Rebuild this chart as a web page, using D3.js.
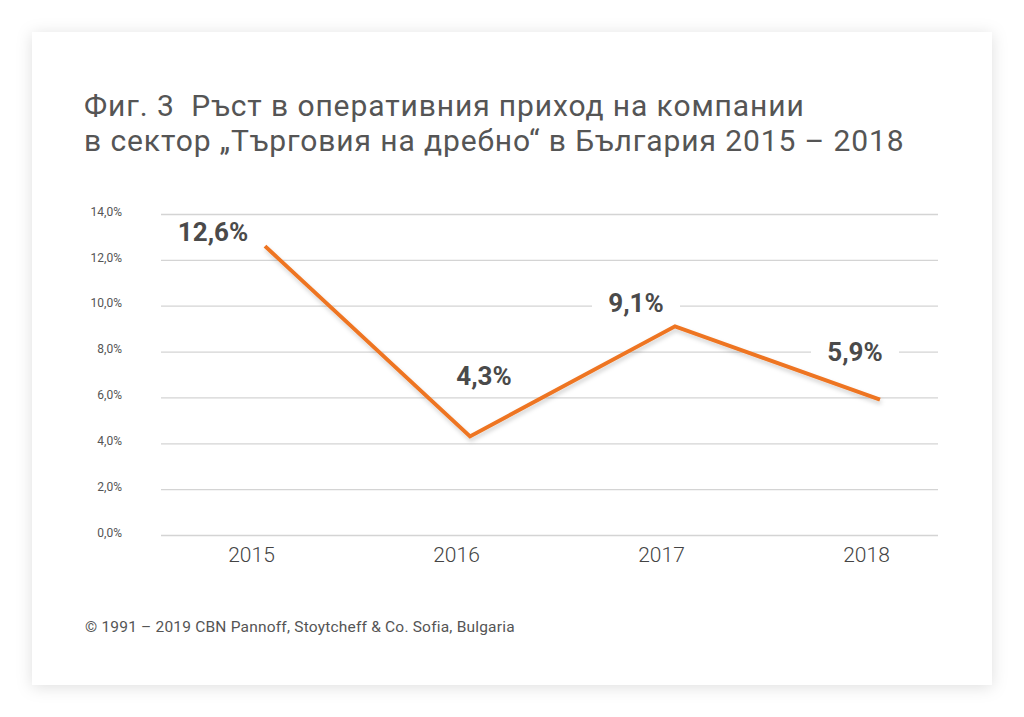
<!DOCTYPE html>
<html><head><meta charset="utf-8">
<script src="https://cdn.jsdelivr.net/npm/d3@7"></script>
<style>
html,body{margin:0;padding:0;background:#fff;}
svg{display:block;}
</style></head>
<body>
<svg id="c" width="1024" height="717"></svg>
<script>
const years = ["2015","2016","2017","2018"];
const growth = [12.6, 4.3, 9.1, 5.9];
const valueLabels = ["12,6%","4,3%","9,1%","5,9%"];
const yTicks = [0,2,4,6,8,10,12,14];
const titleLines = ["Фиг. 3\u00a0 Ръст в оперативния приход на компании","в сектор „Търговия на дребно“ в България 2015 – 2018"];
const footer = "© 1991 – 2019 CBN Pannoff, Stoytcheff & Co. Sofia, Bulgaria";

const svg = d3.select("#c");
const defs = svg.append("defs");
const f = defs.append("filter").attr("id","card").attr("x","-10%").attr("y","-10%").attr("width","120%").attr("height","120%");
f.append("feDropShadow").attr("dx",0).attr("dy",2).attr("stdDeviation",8).attr("flood-color","#000").attr("flood-opacity",0.13);
const f2 = defs.append("filter").attr("id","ls").attr("x","-10%").attr("y","-10%").attr("width","120%").attr("height","130%");
f2.append("feDropShadow").attr("dx",1).attr("dy",3).attr("stdDeviation",2).attr("flood-color","#000").attr("flood-opacity",0.18);

svg.append("rect").attr("x",32).attr("y",32).attr("width",960).attr("height",653).attr("fill","#fff").attr("filter","url(#card)");

const font = "Roboto, 'Noto Sans', sans-serif";
svg.append("g").selectAll("text").data(titleLines).join("text")
  .attr("x",84).attr("y",(d,i)=>116+i*35)
  .attr("font-family",font).attr("font-size",30).attr("letter-spacing",0.9).attr("fill","#555")
  .text(d=>d);

const y = d3.scaleLinear().domain([0,14]).range([535,214]);
const x = d3.scalePoint().domain(years).range([265,880]);
const gridL = 161, gridR = 938;

const yAxis = svg.append("g").attr("transform",`translate(${gridL},0)`)
  .call(d3.axisLeft(y).tickValues(yTicks).tickSize(-(gridR-gridL)).tickPadding(39)
    .tickFormat(d=>d3.format(".1f")(d).replace(".",",")+"%"));
yAxis.select(".domain").remove();
yAxis.selectAll(".tick line").attr("stroke","#d4d4d4").attr("stroke-width",1.3);
yAxis.selectAll(".tick text").attr("font-family",font).attr("font-size",12).attr("fill","#555").attr("dy","0.1em");

const xAxis = svg.append("g").attr("transform","translate(-14,535)")
  .call(d3.axisBottom(x).tickSize(0).tickPadding(12));
xAxis.select(".domain").remove();
xAxis.selectAll(".tick text").attr("font-family",font).attr("font-weight",300).attr("font-size",21).attr("fill","#444").attr("dy","0.72em");

const data = years.map((yr,i)=>({yr, v:growth[i], lab:valueLabels[i]}));
svg.append("path").datum(data)
  .attr("d", d3.line().x(d=>x(d.yr)).y(d=>y(d.v)))
  .attr("fill","none").attr("stroke","#ee7522").attr("stroke-width",4).attr("stroke-linejoin","miter")
  .attr("filter","url(#ls)");

const labOff = [[-52,-14],[14,-61],[-39,-24],[-25,-48]];
const lg = svg.append("g").selectAll("g").data(data).join("g")
  .attr("transform",(d,i)=>`translate(${x(d.yr)+labOff[i][0]},${y(d.v)+labOff[i][1]})`);
lg.append("rect").attr("x",-44).attr("y",-16).attr("width",88).attr("height",30).attr("fill","#fff");
lg.append("text").attr("text-anchor","middle").attr("dy","0.36em")
  .attr("font-family",font).attr("font-weight",700).attr("font-size",26).attr("fill","#4a4a4a")
  .text(d=>d.lab);

svg.append("text").attr("x",85).attr("y",632).attr("font-family",font).attr("font-size",15.5).attr("letter-spacing",0.2).attr("fill","#555").text(footer);
</script>
</body></html>
